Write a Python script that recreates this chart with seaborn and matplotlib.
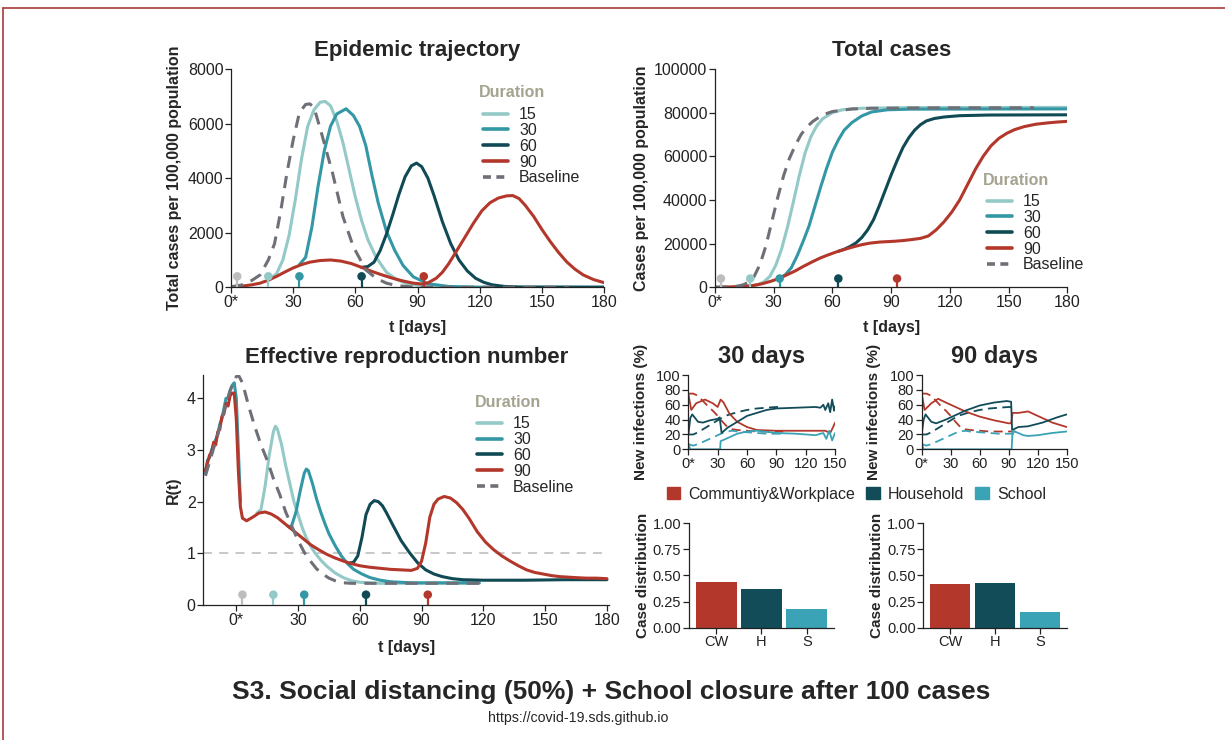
import numpy as np
import pandas as pd
import seaborn as sns
import matplotlib.pyplot as plt
from matplotlib.lines import Line2D
from matplotlib.patches import Patch

# ---- colours ----
C15 = "#93c9c6"
C30 = "#3497a6"
C60 = "#104a55"
C90 = "#b3382b"
CBASE = "#6f6f78"
CGREY = "#bdbdbd"
CTITLE = "#a5a38f"
CCW, CH, CS = "#b3382b", "#124c58", "#3aa3b6"

# ---- epidemic trajectory (new cases per 100,000) ----
traj_base_t = [0, 5, 10, 14, 18, 21, 24, 27, 30, 33, 36, 38, 40, 44, 49, 54, 59, 65, 70, 75, 80, 88, 100, 163]
traj_base = [20, 80, 250, 450, 1000, 1600, 2800, 4200, 5400, 6400, 6700, 6720, 6600, 5550, 4180, 2590, 1490, 640,
             330, 150, 60, 10, 0, 0]
traj_15_t = [18, 22, 25, 28, 31, 34, 37, 40, 43, 45.5, 48, 51, 54, 57, 60, 63, 66, 70, 75, 80, 85, 92, 100, 120, 180]
traj_15 = [260, 500, 1000, 1900, 3200, 4700, 5900, 6500, 6780, 6810, 6650, 6100, 5300, 4300, 3300, 2450, 1750, 1100,
           550, 280, 130, 50, 15, 0, 0]
traj_30_t = [33, 36, 39, 42, 45, 48, 51, 55.5, 59, 62, 65, 68, 71, 75, 79, 83, 88, 95, 105, 120, 180]
traj_30 = [830, 1100, 2200, 3700, 5000, 5900, 6350, 6540, 6300, 5900, 5200, 4100, 3100, 2050, 1350, 800, 380, 130,
           30, 0, 0]
traj_60_t = [63, 66, 69, 72, 75, 78, 81, 84, 87, 89.5, 92, 95, 98, 102, 106, 110, 114, 118, 122, 126, 132, 140, 180]
traj_60 = [730, 760, 920, 1350, 1950, 2650, 3400, 4050, 4450, 4550, 4420, 4000, 3350, 2400, 1600, 1000, 600, 330,
           180, 90, 30, 5, 0]
traj_90_t = [0, 5, 10, 14, 18, 22, 26, 30, 34, 38, 43, 48, 53, 58, 63, 68, 73, 78, 83, 88, 92, 95, 99, 102, 105,
             109, 113, 117, 121, 125, 129, 133, 136, 139, 142, 146, 150, 154, 158, 162, 166, 170, 175, 180]
traj_90 = [10, 40, 90, 150, 260, 400, 560, 710, 830, 920, 980, 1000, 960, 870, 730, 580, 450, 330, 230, 150, 120,
           160, 330, 550, 860, 1350, 1850, 2350, 2800, 3100, 3270, 3350, 3360, 3250, 3000, 2600, 2120, 1680, 1280,
           930, 660, 450, 280, 170]

# ---- total cases ----
tot_base_t = [0, 10, 14, 17, 20, 23, 26, 29, 32, 35, 38, 41, 44, 47, 50, 55, 60, 70, 80, 120, 163]
tot_base = [0, 300, 1000, 2200, 5000, 10500, 19000, 30000, 41000, 51000, 59000, 65000, 70000, 73500, 76000, 79000,
            80500, 81700, 82000, 82200, 82200]
tot_15_t = [18, 22, 25, 28, 31, 34, 37, 40, 43, 46, 49, 52, 55, 60, 65, 75, 100, 180]
tot_15 = [600, 1200, 2500, 5000, 10000, 17500, 27500, 39000, 51000, 61500, 69000, 74000, 77200, 80000, 81300, 82000,
          82300, 82400]
tot_30_t = [33, 36, 39, 42, 45, 48, 51, 54, 57, 60, 63, 66, 70, 75, 80, 88, 100, 180]
tot_30 = [4100, 5800, 9000, 14500, 21000, 28000, 37000, 46000, 54500, 62000, 67500, 72000, 75500, 78500, 80300,
          81300, 81600, 81700]
tot_60_t = [63, 66, 69, 72, 75, 78, 81, 84, 87, 90, 93, 96, 99, 102, 105, 108, 112, 117, 125, 140, 180]
tot_60 = [16500, 17400, 18700, 20300, 22800, 26300, 31000, 37500, 44500, 51500, 58000, 64000, 68500, 72000, 74500,
          76200, 77300, 78000, 78600, 78900, 79000]
tot_90_t = [0, 5, 10, 15, 20, 24, 28, 32, 36, 41, 45, 50, 54, 58, 62, 66, 71, 75, 79, 84, 88, 92, 96, 100, 105, 109,
            113, 117, 121, 125, 129, 133, 137, 141, 145, 149, 153, 158, 164, 170, 175, 180]
tot_90 = [0, 100, 250, 450, 900, 1600, 2600, 3800, 5400, 7500, 9500, 11800, 13500, 14900, 16200, 17300, 18600,
          19500, 20200, 20700, 20900, 21100, 21400, 21800, 22400, 23500, 26300, 30000, 34500, 40000, 47000, 54000,
          60000, 64800, 68200, 70500, 72200, 73600, 74700, 75300, 75700, 76000]

# ---- effective reproduction number ----
r_early_t = [-15, -14, -13, -12, -11, -10, -9, -8, -7, -6, -5, -4, -3, -2, -1, 0, 1, 2]
r_early = [2.55, 2.8, 2.85, 3.0, 3.1, 3.2, 3.3, 3.5, 3.6, 3.8, 4.0, 4.0, 4.15, 4.25, 4.3, 4.0, 3.0, 2.0]
rbase_t = [-15, -12, -9, -6, -3, 0, 1, 3, 6, 9, 12, 15, 18, 21, 24, 27, 30, 33, 36, 39, 42, 45, 48, 52, 56, 118]
rbase = [2.5, 2.9, 3.3, 3.75, 4.15, 4.42, 4.45, 4.3, 3.85, 3.45, 3.1, 2.8, 2.45, 2.15, 1.8, 1.52, 1.25, 1.02, 0.85,
         0.7, 0.6, 0.52, 0.47, 0.43, 0.42, 0.42]
r15_t = [10, 12, 14, 16, 18, 19, 20, 22, 24, 26, 28, 30, 32, 34, 36, 38, 41, 44, 48, 52, 56, 60, 70, 90, 118]
r15 = [1.78, 1.85, 2.3, 2.9, 3.35, 3.46, 3.4, 3.1, 2.7, 2.35, 2.0, 1.75, 1.5, 1.3, 1.15, 1.02, 0.87, 0.75, 0.62,
       0.53, 0.47, 0.44, 0.42, 0.42, 0.42]
r30_t = [25, 26, 27, 29, 31, 33, 34, 35, 37, 39, 41, 43, 45, 48, 51, 54, 57, 61, 65, 70, 75, 85, 118]
r30 = [1.53, 1.5, 1.55, 1.8, 2.2, 2.55, 2.63, 2.6, 2.35, 2.05, 1.8, 1.58, 1.38, 1.15, 0.95, 0.8, 0.69, 0.6, 0.53,
       0.48, 0.45, 0.43, 0.43]
r60_t = [55, 57, 59, 61, 63, 65, 67, 69, 71, 73, 76, 80, 84, 88, 92, 96, 100, 105, 110, 120, 140, 160, 180]
r60 = [0.81, 0.83, 0.95, 1.3, 1.75, 1.95, 2.02, 2.0, 1.92, 1.78, 1.55, 1.25, 1.02, 0.82, 0.68, 0.6, 0.55, 0.51,
       0.49, 0.48, 0.48, 0.49, 0.49]
r90_t = [-15, -14, -13, -12, -11, -10, -9, -8, -7, -6, -5, -4, -3, -2, -1, 0, 1, 2, 3, 5, 8, 11, 14, 17, 20, 24, 28,
         32, 36, 40, 44, 48, 52, 56, 60, 65, 70, 75, 80, 85, 88, 90, 92, 94, 96, 98, 101, 104, 107, 110, 113, 117,
         121, 125, 129, 133, 137, 141, 145, 149, 153, 157, 161, 165, 170, 175, 180]
r90 = [2.6, 2.75, 2.9, 2.95, 3.15, 3.1, 3.35, 3.4, 3.65, 3.7, 3.9, 3.85, 4.05, 4.1, 4.1, 3.6, 2.6, 1.9, 1.68, 1.63,
       1.7, 1.78, 1.8, 1.76, 1.69, 1.56, 1.43, 1.3, 1.17, 1.07, 0.98, 0.91, 0.85, 0.8, 0.76, 0.73, 0.71, 0.69, 0.68,
       0.67, 0.71, 0.85, 1.2, 1.7, 1.95, 2.05, 2.1, 2.07, 1.98, 1.85, 1.68, 1.42, 1.22, 1.07, 0.95, 0.85, 0.76,
       0.68, 0.63, 0.6, 0.57, 0.55, 0.54, 0.53, 0.52, 0.52, 0.51]

# intervention markers (start / end of closure)
mark_t = [3, 18, 33, 63, 93]
durations = ["15", "30", "60", "90", "Baseline"]

# ---- share of new infections by setting (%) ----
sb_t = [0, 5, 10, 15, 20, 25, 30, 35, 40, 45, 50, 60, 70, 80, 90, 97]
sb_cw = [75, 75, 72, 65, 58, 52, 45, 37, 30, 27, 26, 25, 24, 24, 24, 24]
sb_h = [20, 20, 23, 27, 31, 35, 39, 43, 46, 48, 50, 53, 55, 56, 57, 57]
sb_s = [7, 5, 7, 10, 13, 16, 19, 22, 24, 25, 24, 23, 22, 21, 21, 21]

s30_cw_t = [0, 3, 8, 17, 25, 30, 33, 36, 42, 50, 60, 70, 90, 110, 130, 140, 145, 148, 150]
s30_cw = [75, 53, 62, 67, 62, 57, 67, 63, 48, 37, 30, 26, 25, 25, 25, 25, 22, 30, 36]
s30_h_t = [0, 2, 4, 10, 15, 22, 30, 32, 34, 40, 50, 60, 70, 80, 90, 110, 130, 135, 138, 140, 143, 145, 147, 149, 150]
s30_h = [19, 42, 47, 37, 36, 39, 41, 43, 22, 29, 37, 45, 49, 53, 55, 56, 57, 56, 60, 53, 62, 50, 67, 52, 58]
s30_s_t = [0, 2, 32.5, 33, 40, 50, 60, 70, 90, 110, 130, 138, 141, 144, 147, 150]
s30_s = [8, 0, 0, 11, 15, 21, 24, 25, 22, 21, 19, 22, 14, 25, 12, 22]

s90_cw_t = [0, 3, 10, 17, 25, 35, 45, 60, 75, 90, 92.5, 94, 100, 110, 115, 125, 135, 150]
s90_cw = [75, 53, 62, 68, 63, 57, 51, 44, 39, 35, 35, 49, 49, 51, 48, 42, 36, 30]
s90_h_t = [0, 2, 4, 10, 15, 25, 35, 45, 60, 75, 88, 92.5, 93.5, 100, 110, 125, 140, 150]
s90_h = [20, 40, 47, 37, 35, 40, 46, 52, 59, 63, 65, 64, 26, 30, 31, 36, 43, 47]
s90_s_t = [0, 2, 93, 94, 100, 105, 110, 120, 135, 150]
s90_s = [8, 0, 0, 25, 22, 19, 18, 19, 22, 24]

# ---- case distribution ----
settings = ["Communtiy&Workplace", "Household", "School"]
cat_labels = ["CW", "H", "S"]
dist_30 = [0.44, 0.37, 0.18]
dist_90 = [0.42, 0.43, 0.15]

sns.set_style("ticks")
plt.rcParams['font.family'] = ['Liberation Sans', 'DejaVu Sans']
plt.rcParams['axes.edgecolor'] = '#222222'
plt.rcParams['xtick.color'] = '#222222'
plt.rcParams['ytick.color'] = '#222222'

DASH = (0, (4, 2.7))
dur_colors = [C15, C30, C60, C90]


def line(ax, t, v, color, lw=2.2, ls='-'):
    sns.lineplot(x=t, y=v, ax=ax, color=color, lw=lw, linestyle=ls,
                 estimator=None, sort=False, legend=False)


def lollipops(ax, height):
    cols = [CGREY, C15, C30, C60, C90]
    ax.vlines(mark_t, 0, height, colors=cols, lw=1.6, zorder=5)
    sns.scatterplot(x=mark_t, y=[height] * len(mark_t), hue=mark_t, palette=cols,
                    s=38, edgecolor='none', legend=False, ax=ax, zorder=6)


def style_axis(ax, tick_size=11.5):
    sns.despine(ax=ax)
    ax.tick_params(labelsize=tick_size, length=4, width=0.9, pad=1.5)
    for sp in ax.spines.values():
        sp.set_linewidth(0.9)


def duration_legend(ax, title_xy, anchor):
    ax.text(title_xy[0], title_xy[1], "Duration", transform=ax.transAxes, color=CTITLE,
            fontsize=11.5, fontweight="bold", ha="left", va="center")
    handles = [Line2D([], [], color=c, lw=2.6) for c in dur_colors]
    handles.append(Line2D([], [], color=CBASE, lw=2.6, linestyle=(0, (2.2, 1.5))))
    ax.legend(handles, durations, loc="upper left", bbox_to_anchor=anchor,
              frameon=False, fontsize=11.5, labelspacing=0.05, handlelength=1.55,
              handletextpad=0.7, borderpad=0, borderaxespad=0)


day_ticks = [0, 30, 60, 90, 120, 150, 180]
day_labels = ["0*", "30", "60", "90", "120", "150", "180"]

fig = plt.figure(figsize=(12.25, 7.4), dpi=100)

# ---------- Epidemic trajectory ----------
ax1 = fig.add_axes([0.1886, 0.6118, 0.3045, 0.295])
for t, v, c in zip([traj_15_t, traj_30_t, traj_60_t, traj_90_t],
                   [traj_15, traj_30, traj_60, traj_90], dur_colors):
    line(ax1, t, v, c)
line(ax1, traj_base_t, traj_base, CBASE, ls=DASH)
lollipops(ax1, 400)
ax1.set_xlim(0, 180)
ax1.set_ylim(0, 8000)
ax1.set_xticks(day_ticks, day_labels)
ax1.set_yticks([0, 2000, 4000, 6000, 8000])
ax1.set_title("Epidemic trajectory", fontsize=16, fontweight="bold", pad=9)
ax1.set_xlabel("t [days]", fontsize=11.5, fontweight="bold", labelpad=7)
ax1.set_ylabel("Total cases per 100,000 population", fontsize=11.5, fontweight="bold", labelpad=4)
style_axis(ax1)
duration_legend(ax1, (0.665, 0.89), (0.676, 0.825))

# ---------- Total cases ----------
ax2 = fig.add_axes([0.5837, 0.6118, 0.2876, 0.295])
for t, v, c in zip([tot_15_t, tot_30_t, tot_60_t, tot_90_t],
                   [tot_15, tot_30, tot_60, tot_90], dur_colors):
    line(ax2, t, v, c)
line(ax2, tot_base_t, tot_base, CBASE, ls=DASH)
lollipops(ax2, 4000)
ax2.set_xlim(0, 180)
ax2.set_ylim(0, 100000)
ax2.set_xticks(day_ticks, day_labels)
ax2.set_yticks([0, 20000, 40000, 60000, 80000, 100000])
ax2.set_title("Total cases", fontsize=16, fontweight="bold", pad=9)
ax2.set_xlabel("t [days]", fontsize=11.5, fontweight="bold", labelpad=7)
ax2.set_ylabel("Cases per 100,000 population", fontsize=11.5, fontweight="bold", labelpad=4)
style_axis(ax2)
duration_legend(ax2, (0.761, 0.488), (0.772, 0.426))

# ---------- Effective reproduction number ----------
ax3 = fig.add_axes([0.166, 0.1824, 0.3311, 0.3108])
ax3.axhline(1, color="#c4c4c4", lw=1.3, linestyle=(0, (5, 4)), zorder=1)
line(ax3, r_early_t, r_early, C30)
for t, v, c in zip([r15_t, r30_t, r60_t, r90_t], [r15, r30, r60, r90], dur_colors):
    line(ax3, t, v, c)
line(ax3, rbase_t, rbase, CBASE, ls=DASH)
lollipops(ax3, 0.2)
ax3.set_xlim(-16, 181)
ax3.set_ylim(0, 4.45)
ax3.set_xticks(day_ticks, day_labels)
ax3.set_yticks([0, 1, 2, 3, 4])
ax3.set_title("Effective reproduction number", fontsize=16, fontweight="bold", pad=9)
ax3.set_xlabel("t [days]", fontsize=11.5, fontweight="bold", labelpad=9)
ax3.set_ylabel("R(t)", fontsize=11.5, fontweight="bold", labelpad=4)
style_axis(ax3)
duration_legend(ax3, (0.67, 0.881), (0.675, 0.82))

# ---------- New infections by setting ----------
small_ticks = [0, 30, 60, 90, 120, 150]
small_labels = ["0*", "30", "60", "90", "120", "150"]
ax4 = fig.add_axes([0.5619, 0.3928, 0.1198, 0.1004])
ax5 = fig.add_axes([0.7524, 0.3928, 0.1184, 0.1004])
panels = [(ax4, "30 days", [s30_cw_t, s30_h_t, s30_s_t], [s30_cw, s30_h, s30_s]),
          (ax5, "90 days", [s90_cw_t, s90_h_t, s90_s_t], [s90_cw, s90_h, s90_s])]
for ax, title, ts, vs in panels:
    for v, c in zip([sb_cw, sb_h, sb_s], [CCW, CH, CS]):
        line(ax, sb_t, v, c, lw=1.3, ls=(0, (5, 3)))
    for t, v, c in zip(ts, vs, [CCW, CH, CS]):
        line(ax, t, v, c, lw=1.3)
    ax.set_xlim(0, 150)
    ax.set_ylim(0, 100)
    ax.set_xticks(small_ticks, small_labels)
    ax.set_yticks([0, 20, 40, 60, 80, 100])
    ax.set_title(title, fontsize=17, fontweight="bold", pad=9)
    ax.set_xlabel("")
    ax.set_ylabel("New infections (%)", fontsize=11, fontweight="bold", labelpad=6)
    style_axis(ax, tick_size=10.5)

# ---------- Case distribution ----------
ax6 = fig.add_axes([0.5624, 0.1518, 0.1184, 0.1411])
ax7 = fig.add_axes([0.7537, 0.1518, 0.1171, 0.1411])
for ax, vals in [(ax6, dist_30), (ax7, dist_90)]:
    df = pd.DataFrame({"setting": cat_labels, "share": vals})
    sns.barplot(data=df, x="setting", y="share", hue="setting", palette=[CCW, CH, CS],
                width=0.9, saturation=1, edgecolor="none", legend=False, ax=ax)
    ax.set_xlim(-0.6, 2.6)
    ax.set_ylim(0, 1)
    ax.set_yticks([0, 0.25, 0.5, 0.75, 1.0], ["0.00", "0.25", "0.50", "0.75", "1.00"])
    ax.set_xlabel("")
    ax.set_ylabel("Case distribution", fontsize=11, fontweight="bold", labelpad=2)
    style_axis(ax, tick_size=10.5)

patches = [Patch(color=c) for c in [CCW, CH, CS]]
fig.legend(patches, settings, loc="center", bbox_to_anchor=(0.699, 0.3324), ncol=3,
           frameon=False, fontsize=11.5, handlelength=0.85, handleheight=0.85,
           handletextpad=0.5, columnspacing=0.7, borderpad=0)

# ---------- titles ----------
fig.text(0.4988, 0.0649, "S3. Social distancing (50%) + School closure after 100 cases",
         ha="center", va="center", fontsize=19, fontweight="bold")
fig.text(0.4718, 0.0297, "https://covid-19.sds.github.io", ha="center", va="center", fontsize=10.2)

# thin red frame at top and left
fig.add_artist(Line2D([3 / 1225, 1], [1 - 8 / 740, 1 - 8 / 740], color="#a83a3a", lw=1.2))
fig.add_artist(Line2D([3 / 1225, 3 / 1225], [0, 1 - 8 / 740], color="#a83a3a", lw=1.2))

fig.savefig("out.png", dpi=100)
